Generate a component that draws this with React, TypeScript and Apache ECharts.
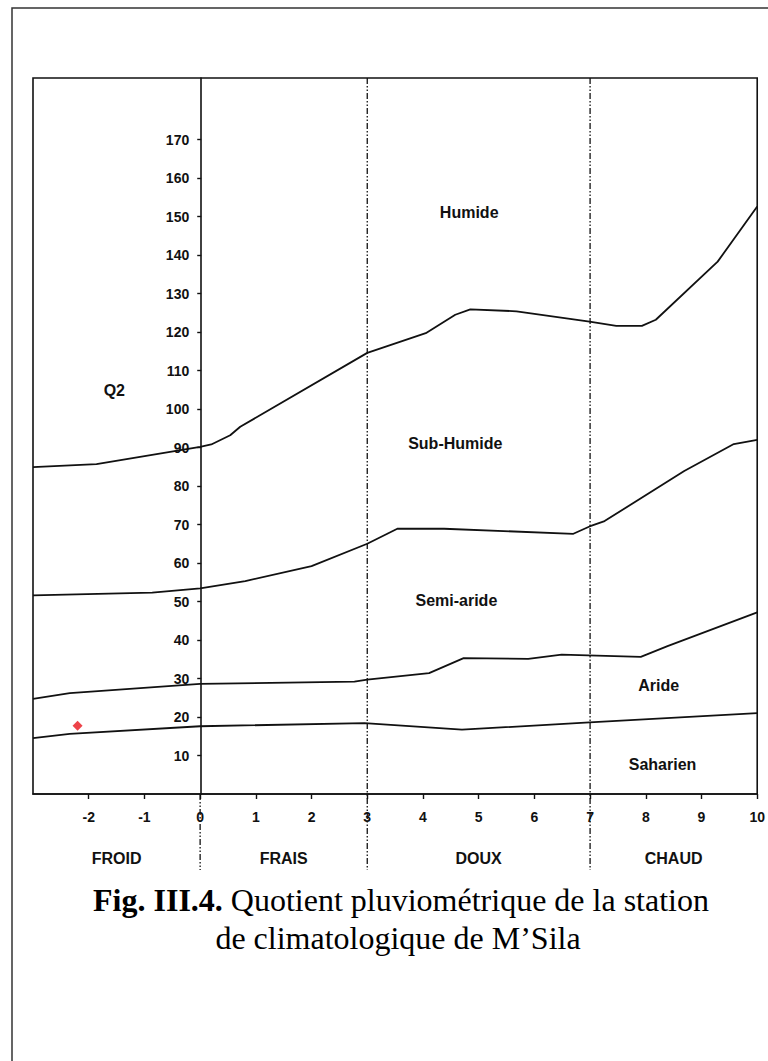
import { useEffect, useRef } from "react";
import * as echarts from "echarts";

// Boundary curves of the Emberger climagram (x = m in °C, y = Q2)
const humideLimit: [number, number][] = [
  [-3, 84.9], [-1.86, 85.7], [0, 90.2], [0.2, 90.8], [0.54, 93.2], [0.72, 95.4],
  [3.0, 114.6], [4.05, 119.7], [4.58, 124.5], [4.85, 125.9], [5.68, 125.4],
  [6.99, 122.7], [7.47, 121.6], [7.93, 121.6], [8.18, 123.2], [9.29, 138.3], [10, 152.6],
];
const subHumideLimit: [number, number][] = [
  [-3, 51.6], [-0.86, 52.3], [0, 53.4], [0.81, 55.3], [2.0, 59.2], [3.0, 65.0],
  [3.54, 68.9], [4.38, 68.9], [6.7, 67.6], [6.99, 69.5], [7.26, 70.9],
  [8.69, 83.9], [9.58, 90.9], [10, 92.0],
];
const semiArideLimit: [number, number][] = [
  [-3, 24.7], [-2.34, 26.2], [0, 28.6], [2.77, 29.2], [3.0, 29.7], [4.11, 31.4],
  [4.73, 35.3], [5.89, 35.1], [6.49, 36.2], [7.91, 35.6], [8.39, 38.4], [10, 47.2],
];
const arideLimit: [number, number][] = [
  [-3, 14.5], [-2.34, 15.6], [0, 17.6], [2.95, 18.4], [4.7, 16.7], [6.99, 18.6], [10, 21.0],
];
const stationPoint: [number, number][] = [[-2.2, 17.7]];

const xMin = -3;
const xMax = 10;
const yMin = 0;
const yMax = 186;
const xTickValues = [-2, -1, 0, 1, 2, 3, 4, 5, 6, 7, 8, 9, 10];
const yTickValues = [10, 20, 30, 40, 50, 60, 70, 80, 90, 100, 110, 120, 130, 140, 150, 160, 170];

const temperatureBounds = [0, 3, 7];
const temperatureClasses = ["FROID", "FRAIS", "DOUX", "CHAUD"];
const temperatureClassCenters = [-1.5, 1.5, 5, 8.5];

const zoneNames = ["Humide", "Sub-Humide", "Semi-aride", "Aride", "Saharien", "Q2"];
const zoneNamePositions: [number, number][] = [
  [4.83, 151], [4.58, 91.1], [4.6, 50.3], [8.23, 28.1], [8.3, 7.6], [-1.54, 104.7],
];

const captionBold = "Fig. III.4.";
const captionLine1 = " Quotient pluviométrique de la station";
const captionLine2 = "de climatologique de M’Sila";

const SANS = "'Liberation Sans', Arial, sans-serif";
const SERIF = "'Liberation Serif', 'Times New Roman', serif";
const INK = "#111";

const CHART_W = 768;
const CHART_H = 1061;
const GRID_LEFT = 33;
const GRID_RIGHT = 6;
const GRID_TOP = 78;
const GRID_BOTTOM = 267;

export default function App() {
  const ref = useRef<HTMLDivElement>(null);

  useEffect(() => {
    if (!ref.current) return;
    const chart = echarts.init(ref.current, undefined, { renderer: "svg" });

    const plotWidth = CHART_W - GRID_LEFT - GRID_RIGHT;
    // place the Q2 axis at m = 0
    const yAxisOffset = -((0 - xMin) / (xMax - xMin)) * plotWidth;

    const curveStyle = { color: INK, width: 1.8 };
    const curve = (data: [number, number][]) => ({
      type: "line",
      data,
      symbol: "none",
      silent: true,
      lineStyle: curveStyle,
      z: 3,
    });

    const option: any = {
      animation: false,
      backgroundColor: "#fff",
      grid: {
        left: GRID_LEFT,
        top: GRID_TOP,
        right: GRID_RIGHT,
        bottom: GRID_BOTTOM,
        show: true,
        borderColor: INK,
        borderWidth: 1.6,
        backgroundColor: "transparent",
      },
      xAxis: {
        type: "value",
        min: xMin,
        max: xMax,
        splitLine: { show: false },
        axisLine: { show: true, onZero: false, lineStyle: { color: INK, width: 1.6 } },
        axisTick: {
          show: true,
          length: 5,
          customValues: xTickValues,
          lineStyle: { color: INK, width: 1.4 },
        },
        axisLabel: {
          customValues: xTickValues,
          margin: 16,
          color: INK,
          fontFamily: SANS,
          fontWeight: "bold",
          fontSize: 14,
        },
      },
      yAxis: {
        type: "value",
        min: yMin,
        max: yMax,
        position: "left",
        offset: yAxisOffset,
        splitLine: { show: false },
        axisLine: { show: true, onZero: false, lineStyle: { color: INK, width: 1.6 } },
        axisTick: {
          show: true,
          length: 4,
          customValues: yTickValues,
          lineStyle: { color: INK, width: 1.4 },
        },
        axisLabel: {
          customValues: yTickValues,
          margin: 12,
          color: INK,
          fontFamily: SANS,
          fontWeight: "bold",
          fontSize: 14,
        },
      },
      series: [
        curve(humideLimit),
        curve(subHumideLimit),
        curve(semiArideLimit),
        curve(arideLimit),
        {
          type: "scatter",
          data: stationPoint,
          symbol: "diamond",
          symbolSize: 10,
          itemStyle: { color: "#e8141c" },
          z: 5,
        },
        {
          // temperature class boundaries (dash-dot), extended below the axis
          type: "custom",
          clip: false,
          silent: true,
          data: temperatureBounds.map((v) => [v, 0]),
          encode: { x: 0, y: 1 },
          z: 2,
          renderItem: (params: any, api: any) => {
            const x = api.value(0);
            const top = api.coord([x, yMax]);
            const bottom = api.coord([x, yMin]);
            const dash = { stroke: INK, lineWidth: 1.3, lineDash: [6, 2, 1.5, 2, 1.5, 2] };
            const startY = x === 0 ? bottom[1] : top[1];
            return {
              type: "line",
              shape: { x1: bottom[0], y1: startY, x2: bottom[0], y2: bottom[1] + 76 },
              style: dash,
            };
          },
        },
        {
          // temperature class names under the axis
          type: "custom",
          clip: false,
          silent: true,
          data: temperatureClassCenters.map((v) => [v, 0]),
          encode: { x: 0, y: 1 },
          renderItem: (params: any, api: any) => {
            const p = api.coord([api.value(0), yMin]);
            return {
              type: "text",
              x: p[0],
              y: p[1] + 64,
              style: {
                text: temperatureClasses[params.dataIndex],
                fill: INK,
                font: `bold 16px ${SANS}`,
                align: "center",
                verticalAlign: "middle",
              },
            };
          },
        },
        {
          // bioclimatic zone names
          type: "custom",
          clip: false,
          silent: true,
          data: zoneNamePositions,
          encode: { x: 0, y: 1 },
          renderItem: (params: any, api: any) => {
            const p = api.coord([api.value(0), api.value(1)]);
            return {
              type: "text",
              x: p[0],
              y: p[1],
              style: {
                text: zoneNames[params.dataIndex],
                fill: INK,
                font: `bold 16px ${SANS}`,
                align: "center",
                verticalAlign: "middle",
              },
            };
          },
        },
      ],
      graphic: [
        {
          type: "rect",
          silent: true,
          shape: { x: 12, y: 8, width: 780, height: 1080 },
          style: { fill: "none", stroke: "#333", lineWidth: 1.5 },
          z: 0,
        },
        {
          type: "text",
          x: 401,
          y: 900,
          style: {
            text: `{b|${captionBold}}{r|${captionLine1}}`,
            align: "center",
            textAlign: "center",
            verticalAlign: "middle",
            textVerticalAlign: "middle",
            fill: "#000",
            rich: {
              b: { font: `bold 32px ${SERIF}`, fill: "#000" },
              r: { font: `32px ${SERIF}`, fill: "#000" },
            },
          },
        },
        {
          type: "text",
          x: 398,
          y: 938,
          style: {
            text: captionLine2,
            font: `32px ${SERIF}`,
            align: "center",
            textAlign: "center",
            verticalAlign: "middle",
            textVerticalAlign: "middle",
            fill: "#000",
          },
        },
      ],
    };

    chart.setOption(option);
    return () => chart.dispose();
  }, []);

  return (
    <div
      ref={ref}
      style={{ position: "absolute", left: 0, top: 0, width: CHART_W, height: CHART_H, background: "#fff" }}
    />
  );
}
